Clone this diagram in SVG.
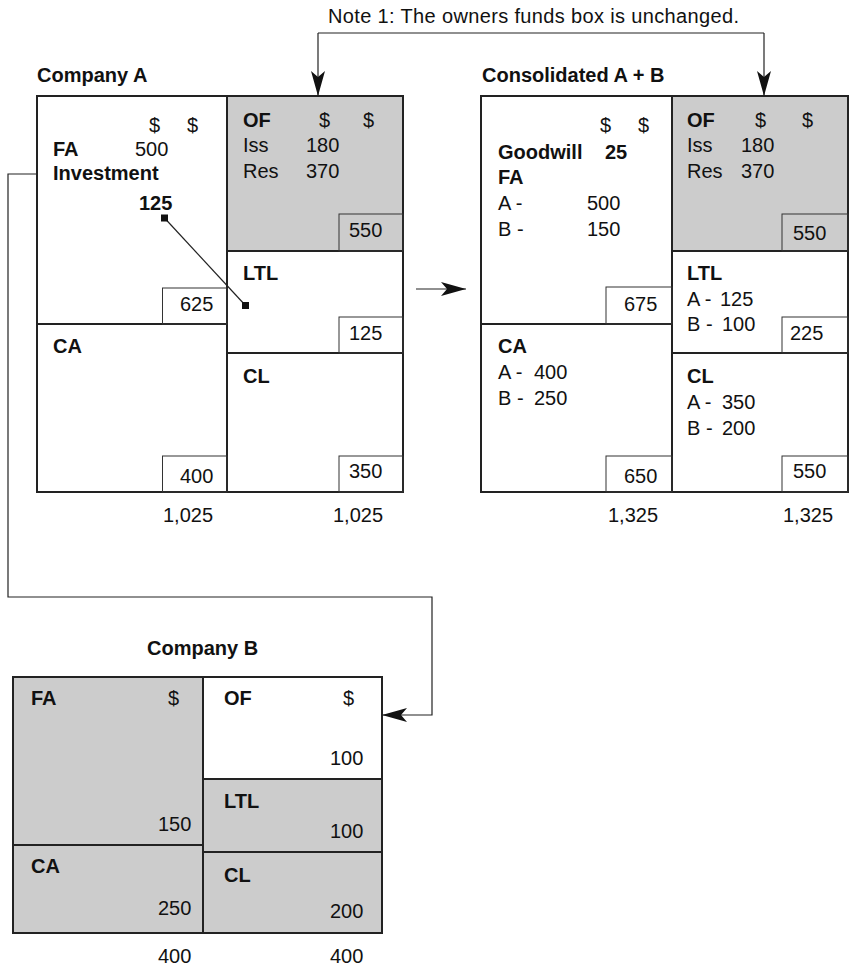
<svg xmlns="http://www.w3.org/2000/svg" width="851" height="975" viewBox="0 0 851 975">
<style>
text{font-family:"Liberation Sans",Arial,sans-serif;font-size:20px;fill:#111}
.b{font-weight:bold}
.box{fill:none;stroke:#222;stroke-width:2}
.div{stroke:#222;stroke-width:2;fill:none}
.sm{fill:none;stroke:#333;stroke-width:1}
.g{fill:#cccccc}
.w{fill:#ffffff}
.con{fill:none;stroke:#222;stroke-width:1.2}
</style>
<defs>
<marker id="ah" markerUnits="userSpaceOnUse" markerWidth="26" markerHeight="14" refX="25" refY="7" orient="auto">
<path d="M0,0 L25,7 L0,14 L6,7 z" fill="#111"/>
</marker>
</defs>
<rect x="0" y="0" width="851" height="975" fill="#fff"/>

<g id="companyA">
<text class="b" x="37" y="82">Company A</text>
<rect class="w" x="37" y="96" width="366" height="396"/>
<rect class="g" x="227" y="96" width="176" height="155"/>
<rect class="box" x="37" y="96" width="366" height="396"/>
<line class="div" x1="227" y1="96" x2="227" y2="492"/>
<line class="div" x1="37" y1="324" x2="228" y2="324"/>
<line class="div" x1="227" y1="251" x2="403" y2="251"/>
<line class="div" x1="227" y1="353" x2="403" y2="353"/>
<rect class="sm" x="162.5" y="288" width="64.5" height="36"/>
<rect class="sm" x="339" y="214" width="64" height="37"/>
<rect class="sm" x="339" y="317" width="64" height="36"/>
<rect class="sm" x="162.5" y="456" width="64.5" height="36"/>
<rect class="sm" x="339" y="456" width="64" height="36"/>
<text x="149" y="132">$</text>
<text x="187" y="132">$</text>
<text class="b" x="53" y="156">FA</text>
<text x="135" y="156">500</text>
<text class="b" x="53" y="180">Investment</text>
<text class="b" x="139" y="210">125</text>
<text x="180" y="311">625</text>
<text class="b" x="53" y="353">CA</text>
<text x="180" y="483">400</text>
<text class="b" x="243" y="127">OF</text>
<text x="319" y="127">$</text>
<text x="363" y="127">$</text>
<text x="243" y="152">Iss</text>
<text x="306" y="152">180</text>
<text x="243" y="178">Res</text>
<text x="306" y="178">370</text>
<text x="349" y="237">550</text>
<text class="b" x="243" y="280">LTL</text>
<text x="349" y="340">125</text>
<text class="b" x="243" y="383">CL</text>
<text x="349" y="478">350</text>
<text x="163" y="522">1,025</text>
<text x="333" y="522">1,025</text>
</g>

<g id="consolidated">
<text class="b" x="482" y="82">Consolidated A + B</text>
<rect class="w" x="481" y="96" width="367" height="396"/>
<rect class="g" x="672" y="96" width="176" height="155"/>
<rect class="box" x="481" y="96" width="367" height="396"/>
<line class="div" x1="672" y1="96" x2="672" y2="492"/>
<line class="div" x1="481" y1="324" x2="672" y2="324"/>
<line class="div" x1="672" y1="251" x2="848" y2="251"/>
<line class="div" x1="672" y1="353" x2="848" y2="353"/>
<rect class="sm" x="606" y="287" width="66" height="37"/>
<rect class="sm" x="782" y="214" width="66" height="37"/>
<rect class="sm" x="782" y="317" width="66" height="36"/>
<rect class="sm" x="606" y="456" width="66" height="36"/>
<rect class="sm" x="782" y="456" width="66" height="36"/>
<text x="600" y="132">$</text>
<text x="638" y="132">$</text>
<text class="b" x="498" y="159">Goodwill</text>
<text class="b" x="605" y="159">25</text>
<text class="b" x="498" y="184">FA</text>
<text x="498" y="210">A -<tspan x="587">500</tspan></text>
<text x="498" y="236">B -<tspan x="587">150</tspan></text>
<text x="624" y="311">675</text>
<text class="b" x="498" y="353">CA</text>
<text x="498" y="379">A -<tspan x="534">400</tspan></text>
<text x="498" y="405">B -<tspan x="534">250</tspan></text>
<text x="624" y="483">650</text>
<text class="b" x="687" y="127">OF</text>
<text x="755" y="127">$</text>
<text x="802" y="127">$</text>
<text x="687" y="152">Iss</text>
<text x="741" y="152">180</text>
<text x="687" y="178">Res</text>
<text x="741" y="178">370</text>
<text x="793" y="240">550</text>
<text class="b" x="687" y="280">LTL</text>
<text x="687" y="306">A -<tspan x="720">125</tspan></text>
<text x="687" y="331">B -<tspan x="722">100</tspan></text>
<text x="790" y="340">225</text>
<text class="b" x="687" y="383">CL</text>
<text x="687" y="409">A -<tspan x="722">350</tspan></text>
<text x="687" y="435">B -<tspan x="722">200</tspan></text>
<text x="793" y="478">550</text>
<text x="608" y="522">1,325</text>
<text x="783" y="522">1,325</text>
</g>

<g id="companyB">
<text class="b" x="147" y="655">Company B</text>
<rect class="g" x="13" y="677" width="369" height="256"/>
<rect class="w" x="203" y="677" width="179" height="102"/>
<rect class="box" x="13" y="677" width="369" height="256"/>
<line class="div" x1="203" y1="677" x2="203" y2="933"/>
<line class="div" x1="13" y1="845" x2="203" y2="845"/>
<line class="div" x1="203" y1="779" x2="382" y2="779"/>
<line class="div" x1="203" y1="852" x2="382" y2="852"/>
<text class="b" x="31" y="705">FA</text>
<text x="168" y="705">$</text>
<text x="158" y="831">150</text>
<text class="b" x="31" y="873">CA</text>
<text x="158" y="915">250</text>
<text class="b" x="224" y="705">OF</text>
<text x="343" y="705">$</text>
<text x="330" y="765">100</text>
<text class="b" x="224" y="808">LTL</text>
<text x="330" y="838">100</text>
<text class="b" x="224" y="882">CL</text>
<text x="330" y="918">200</text>
<text x="158" y="963">400</text>
<text x="330" y="963">400</text>
</g>

<g id="note">
<text x="328" y="23" textLength="411" lengthAdjust="spacing">Note 1: The owners funds box is unchanged.</text>
</g>

<g id="connectors">
<polyline class="con" points="318,33 764,33"/>
<polyline class="con" points="318,33 318,96" marker-end="url(#ah)"/>
<polyline class="con" points="764,33 764,96" marker-end="url(#ah)"/>
<polyline class="con" points="37,174 8,174 8,597 432,597 432,715 382,715" marker-end="url(#ah)"/>
<line class="con" x1="416" y1="289" x2="466" y2="289" marker-end="url(#ah)"/>
<line class="con" x1="164.5" y1="218" x2="245.5" y2="305.5"/>
<rect x="161" y="214.5" width="7" height="7" fill="#111"/>
<rect x="242" y="302" width="7" height="7" fill="#111"/>
</g>
</svg>
